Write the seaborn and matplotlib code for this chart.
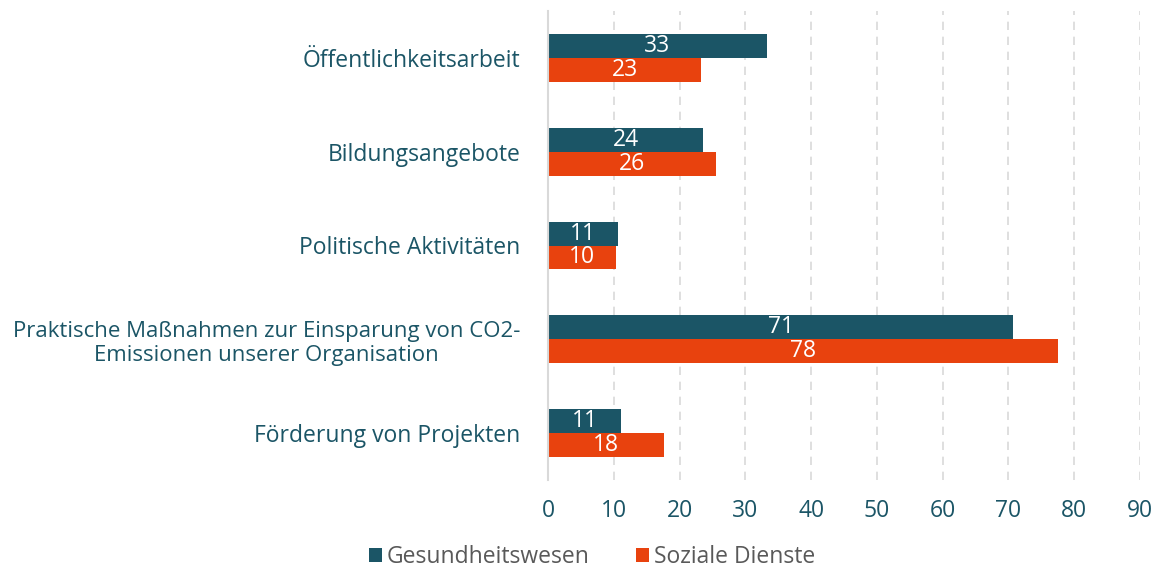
import matplotlib
matplotlib.use("Agg")
import matplotlib.pyplot as plt
import seaborn as sns
import pandas as pd

categories = [
    "Öffentlichkeitsarbeit",
    "Bildungsangebote",
    "Politische Aktivitäten",
    "Praktische Maßnahmen zur Einsparung von CO2-\nEmissionen unserer Organisation",
    "Förderung von Projekten",
]
gesundheit = [33.3, 23.6, 10.7, 70.7, 11.1]
soziale = [23.3, 25.6, 10.3, 77.6, 17.7]
series = ["Gesundheitswesen", "Soziale Dienste"]
colors = ["#1B5566", "#E8420E"]
xticks = [0, 10, 20, 30, 40, 50, 60, 70, 80, 90]

df = pd.DataFrame({
    "cat": categories * 2,
    "val": gesundheit + soziale,
    "series": [series[0]] * len(categories) + [series[1]] * len(categories),
})

sns.set_theme(style="white")
plt.rcParams['font.family'] = ['Open Sans', 'DejaVu Sans']
FS = 16.5

fig = plt.figure(figsize=(11.56, 5.71), dpi=100)
ax = fig.add_axes([548 / 1156, 1 - 480 / 571, (1140 - 548) / 1156, (480 - 11) / 571])

sns.barplot(data=df, y="cat", x="val", hue="series", palette=colors, orient="h",
            width=0.51, ax=ax, saturation=1, legend=True, edgecolor="none")

for c in ax.containers:
    labels = [f"{v:.0f}" for v in c.datavalues]
    ax.bar_label(c, labels=labels, label_type="center", color="white", fontsize=FS)

ax.set_xlim(0, 90)
ax.set_xticks(xticks)
ax.set_xticklabels([str(t) for t in xticks], fontsize=FS, color="#1B5566")
ax.tick_params(axis="y", labelsize=FS, labelcolor="#1B5566", length=0, pad=20)
ax.tick_params(axis="x", length=0, pad=14)
for lab in ax.get_yticklabels():
    lab.set_horizontalalignment("right")
    lab.set_multialignment("center")
    if "\n" in lab.get_text():
        lab.set_fontsize(16.0)
ax.set_xlabel("")
ax.set_ylabel("")
for s in ["top", "right", "bottom"]:
    ax.spines[s].set_visible(False)
ax.spines["left"].set_color("#D9D9D9")
ax.spines["left"].set_linewidth(1.5)
ax.xaxis.grid(True, linestyle=(0, (5, 4)), color="#D9D9D9", linewidth=1.2)
ax.set_axisbelow(True)

handles, labels = ax.get_legend_handles_labels()
ax.legend_.remove()
fig.legend(handles, labels, loc="center", bbox_to_anchor=(592 / 1156, 1 - 557 / 571),
           ncol=2, frameon=False, fontsize=FS, handlelength=0.6, handleheight=0.6,
           handletextpad=0.2, columnspacing=2.0, labelcolor="#595959")

fig.savefig("out.png", dpi=100)
